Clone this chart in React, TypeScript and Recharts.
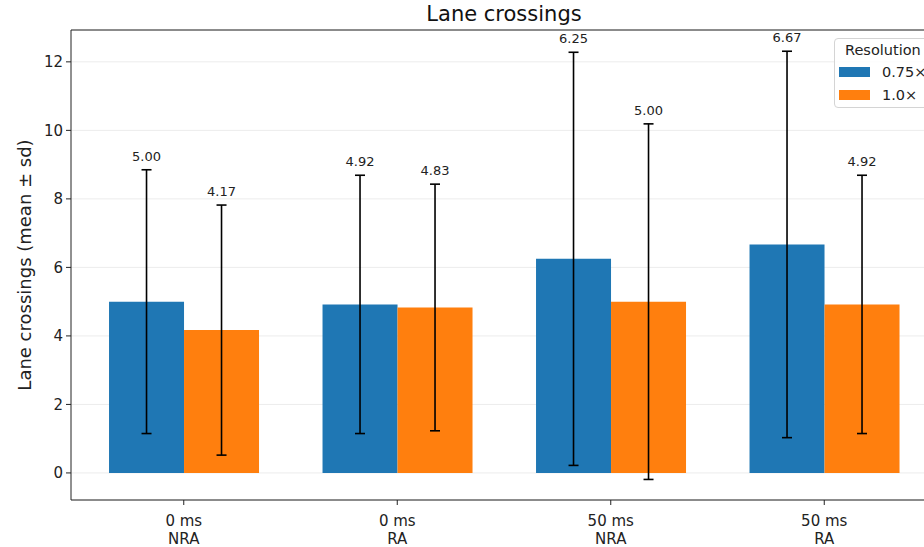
import React from "react";
import {
  BarChart,
  Bar,
  XAxis,
  YAxis,
  CartesianGrid,
  ErrorBar,
  LabelList,
  ReferenceLine,
  Label,
} from "recharts";

const delays = ["0 ms", "0 ms", "50 ms", "50 ms"];
const conditions = ["NRA", "RA", "NRA", "RA"];
const mean075 = [5.0, 4.92, 6.25, 6.67];
const mean10 = [4.17, 4.83, 5.0, 4.92];
const sd075 = [3.85, 3.77, 6.03, 5.64];
const sd10 = [3.65, 3.6, 5.19, 3.77];
const yTicks = [0, 2, 4, 6, 8, 10, 12];

const BLUE = "#1f77b4";
const ORANGE = "#ff7f0e";
const FONT = "DejaVu Sans, sans-serif";
const Y_MIN = -0.79;
const Y_MAX = 12.93;

const data = delays.map((d, i) => ({
  name: `${d}\n${conditions[i]}`,
  m075: mean075[i],
  m10: mean10[i],
  sd075: sd075[i],
  sd10: sd10[i],
}));

// label sits just above the top of the error bar
function valueLabel(sds: number[]) {
  return (props: any) => {
    const { x, y, width, height, value, index } = props;
    const v = Number(value);
    const pxPerUnit = Number(height) / v;
    const top = Number(y) - sds[index] * pxPerUnit;
    return (
      <text
        x={Number(x) + Number(width) / 2}
        y={top - 9}
        textAnchor="middle"
        fontSize={13}
        fill="#222"
        fontFamily={FONT}
      >
        {v.toFixed(2)}
      </text>
    );
  };
}

function XTick(props: any) {
  const { x, y, index } = props;
  return (
    <g>
      <text x={x} y={y + 19} textAnchor="middle" fontSize={15} fill="#222" fontFamily={FONT}>
        {delays[index]}
      </text>
      <text x={x} y={y + 37} textAnchor="middle" fontSize={15} fill="#222" fontFamily={FONT}>
        {conditions[index]}
      </text>
    </g>
  );
}

export default function App() {
  return (
    <div
      style={{
        position: "absolute",
        left: 0,
        top: 0,
        width: 924,
        height: 547,
        overflow: "hidden",
        background: "#fff",
        fontFamily: FONT,
      }}
    >
      <div
        style={{
          position: "absolute",
          left: 304,
          width: 400,
          top: 4,
          textAlign: "center",
          fontSize: 21,
          lineHeight: "21px",
          color: "#111",
        }}
      >
        Lane crossings
      </div>
      <BarChart
        width={960}
        height={547}
        data={data}
        margin={{ top: 30, right: 23, left: 0, bottom: 0 }}
        barGap={0}
        barCategoryGap="15%"
        style={{ fontFamily: FONT }}
      >
        <CartesianGrid vertical={false} stroke="#ececec" />
        <XAxis
          dataKey="name"
          height={47}
          padding={{ left: 6, right: 6 }}
          axisLine={{ stroke: "#222" }}
          tickLine={{ stroke: "#222" }}
          tickSize={5}
          tick={<XTick />}
          interval={0}
        />
        <YAxis
          type="number"
          width={71}
          domain={[Y_MIN, Y_MAX]}
          ticks={yTicks}
          allowDataOverflow
          axisLine={{ stroke: "#222" }}
          tickLine={{ stroke: "#222" }}
          tickSize={5}
          tickMargin={3}
          tick={{ fontSize: 15, fill: "#222", fontFamily: FONT }}
        >
          <Label
            content={(p: any) => {
              const vb = p.viewBox || {};
              const cy = (vb.y ?? 30) + (vb.height ?? 470) / 2;
              return (
                <text
                  x={31}
                  y={cy}
                  transform={`rotate(-90, 31, ${cy})`}
                  textAnchor="middle"
                  fontSize={18}
                  fill="#222"
                  fontFamily={FONT}
                >
                  Lane crossings (mean ± sd)
                </text>
              );
            }}
          />
        </YAxis>
        <ReferenceLine y={Y_MAX} stroke="#222" ifOverflow="extendDomain" />
        <Bar dataKey="m075" fill={BLUE} isAnimationActive={false}>
          <ErrorBar dataKey="sd075" width={5} stroke="#000" strokeWidth={1.6} />
          <LabelList dataKey="m075" content={valueLabel(sd075)} />
        </Bar>
        <Bar dataKey="m10" fill={ORANGE} isAnimationActive={false}>
          <ErrorBar dataKey="sd10" width={5} stroke="#000" strokeWidth={1.6} />
          <LabelList dataKey="m10" content={valueLabel(sd10)} />
        </Bar>
      </BarChart>
      <div
        style={{
          position: "absolute",
          left: 834,
          top: 38,
          width: 110,
          height: 70,
          border: "1px solid #d4d4d4",
          borderRadius: 4,
          background: "rgba(255,255,255,0.85)",
          boxSizing: "border-box",
          fontSize: 14.5,
          color: "#222",
        }}
      >
        <div style={{ position: "absolute", left: 10, top: 2, lineHeight: "18px" }}>Resolution</div>
        {[
          { label: "0.75×", color: BLUE, top: 28 },
          { label: "1.0×", color: ORANGE, top: 51 },
        ].map((it) => (
          <div key={it.label}>
            <div
              style={{
                position: "absolute",
                left: 4,
                top: it.top,
                width: 31,
                height: 10,
                background: it.color,
              }}
            />
            <div style={{ position: "absolute", left: 47, top: it.top - 4, lineHeight: "18px" }}>
              {it.label}
            </div>
          </div>
        ))}
      </div>
    </div>
  );
}
